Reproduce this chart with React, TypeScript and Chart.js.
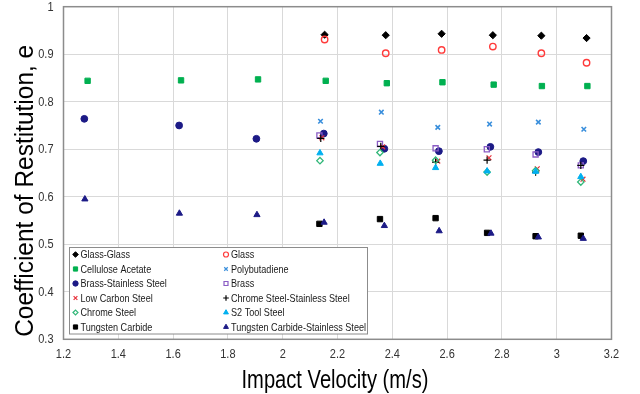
import React, { useEffect, useRef } from "react";
import { Chart, registerables } from "chart.js";
import { drawPoint } from "chart.js/helpers";

Chart.register(...registerables);

// ---- data (impact velocity m/s, coefficient of restitution) ----
const seriesNames = [
  "Glass-Glass",
  "Glass",
  "Cellulose Acetate",
  "Polybutadiene",
  "Brass-Stainless Steel",
  "Brass",
  "Low Carbon Steel",
  "Chrome Steel-Stainless Steel",
  "Chrome Steel",
  "S2 Tool Steel",
  "Tungsten Carbide",
  "Tungsten Carbide-Stainless Steel",
];

const glassGlassX = [2.153, 2.376, 2.58, 2.767, 2.944, 3.109];
const glassGlassY = [0.941, 0.94, 0.943, 0.94, 0.939, 0.934];
const glassX = [2.153, 2.376, 2.58, 2.767, 2.944, 3.109];
const glassY = [0.931, 0.902, 0.909, 0.916, 0.902, 0.882];
const celluloseX = [1.288, 1.629, 1.91, 2.157, 2.38, 2.583, 2.77, 2.946, 3.112];
const celluloseY = [0.844, 0.845, 0.847, 0.844, 0.839, 0.841, 0.836, 0.833, 0.833];
const polyX = [2.138, 2.36, 2.566, 2.755, 2.933, 3.099];
const polyY = [0.759, 0.778, 0.746, 0.753, 0.757, 0.742];
const brassSSX = [1.276, 1.622, 1.904, 2.15, 2.371, 2.57, 2.758, 2.933, 3.097];
const brassSSY = [0.764, 0.75, 0.722, 0.733, 0.701, 0.696, 0.705, 0.694, 0.675];
const brassX = [2.134, 2.355, 2.558, 2.745, 2.923, 3.088];
const brassY = [0.729, 0.711, 0.702, 0.7, 0.689, 0.666];
const lowCarbonX = [2.143, 2.365, 2.566, 2.753, 2.929, 3.096];
const lowCarbonY = [0.724, 0.705, 0.675, 0.682, 0.659, 0.637];
const chromeSSX = [2.139, 2.358, 2.558, 2.746, 2.923, 3.088];
const chromeSSY = [0.723, 0.706, 0.673, 0.677, 0.652, 0.666];
const chromeX = [2.136, 2.355, 2.558, 2.746, 2.923, 3.088];
const chromeY = [0.676, 0.693, 0.677, 0.652, 0.655, 0.631];
const s2X = [2.136, 2.356, 2.558, 2.746, 2.923, 3.088];
const s2Y = [0.692, 0.67, 0.661, 0.654, 0.653, 0.642];
const tcX = [2.134, 2.355, 2.558, 2.746, 2.923, 3.088];
const tcY = [0.543, 0.553, 0.555, 0.524, 0.517, 0.518];
const tcssX = [1.278, 1.623, 1.906, 2.151, 2.371, 2.571, 2.76, 2.933, 3.097];
const tcssY = [0.595, 0.565, 0.562, 0.546, 0.539, 0.528, 0.523, 0.515, 0.512];

const xTitle = "Impact Velocity (m/s)";
const yTitle = "Coefficient of Restitution, e";

const FONT = '"Liberation Sans", Arial, sans-serif';

type Style = {
  pointStyle: string;
  fill: string;
  stroke: string;
  radius: number;
  borderWidth: number;
};

const styles: Style[] = [
  { pointStyle: "rectRot", fill: "#000000", stroke: "#000000", radius: 3.6, borderWidth: 1 },
  { pointStyle: "circle", fill: "rgba(255,255,255,0)", stroke: "#ff3b3b", radius: 3.2, borderWidth: 1.4 },
  { pointStyle: "rect", fill: "#00b050", stroke: "#00b050", radius: 3.8, borderWidth: 1 },
  { pointStyle: "crossRot", fill: "#3a8fdc", stroke: "#3a8fdc", radius: 3.2, borderWidth: 1.6 },
  { pointStyle: "circle", fill: "#1c1a86", stroke: "#1c1a86", radius: 3.4, borderWidth: 1 },
  { pointStyle: "rect", fill: "rgba(255,255,255,0)", stroke: "#8a5cc4", radius: 3.6, borderWidth: 1.3 },
  { pointStyle: "crossRot", fill: "#e8303a", stroke: "#e8303a", radius: 3.4, borderWidth: 1.2 },
  { pointStyle: "cross", fill: "#000000", stroke: "#000000", radius: 3.6, borderWidth: 1.2 },
  { pointStyle: "rectRot", fill: "rgba(255,255,255,0)", stroke: "#33b87a", radius: 3.2, borderWidth: 1.3 },
  { pointStyle: "triangle", fill: "#00b0f0", stroke: "#00b0f0", radius: 3.6, borderWidth: 1 },
  { pointStyle: "rect", fill: "#000000", stroke: "#000000", radius: 3.8, borderWidth: 1 },
  { pointStyle: "triangle", fill: "#1c1a86", stroke: "#1c1a86", radius: 3.6, borderWidth: 1 },
];

const seriesX = [glassGlassX, glassX, celluloseX, polyX, brassSSX, brassX, lowCarbonX, chromeSSX, chromeX, s2X, tcX, tcssX];
const seriesY = [glassGlassY, glassY, celluloseY, polyY, brassSSY, brassY, lowCarbonY, chromeSSY, chromeY, s2Y, tcY, tcssY];

function narrowText(
  ctx: CanvasRenderingContext2D,
  text: string,
  x: number,
  y: number,
  sx: number,
  align: CanvasTextAlign
) {
  ctx.save();
  ctx.translate(x, y);
  ctx.scale(sx, 1);
  ctx.textAlign = align;
  ctx.fillText(text, 0, 0);
  ctx.restore();
}

const fmt = (v: number) => String(Math.round(v * 10) / 10);

const framePlugin = {
  id: "frameAndLegend",
  afterDraw(chart: any) {
    const ctx: CanvasRenderingContext2D = chart.ctx;
    const a = chart.chartArea;
    ctx.save();
    // plot-area border
    ctx.strokeStyle = "#8c8c8c";
    ctx.lineWidth = 1.5;
    ctx.strokeRect(a.left, a.top, a.right - a.left, a.bottom - a.top);

    // tick labels (condensed look)
    ctx.fillStyle = "#333333";
    ctx.font = `12.5px ${FONT}`;
    ctx.textBaseline = "middle";
    const xs = chart.scales.x;
    const ys = chart.scales.y;
    xs.ticks.forEach((t: any) => {
      narrowText(ctx, fmt(t.value), xs.getPixelForValue(t.value), 354.5, 0.88, "center");
    });
    ys.ticks.forEach((t: any) => {
      narrowText(ctx, fmt(t.value), 53.5, ys.getPixelForValue(t.value) + 0.5, 0.88, "right");
    });

    // axis titles
    ctx.fillStyle = "#000000";
    ctx.textBaseline = "alphabetic";
    ctx.font = `25.5px ${FONT}`;
    const xw = ctx.measureText(xTitle).width;
    narrowText(ctx, xTitle, 335, 388.3, 187 / xw, "center");
    const yw = ctx.measureText(yTitle).width;
    ctx.save();
    ctx.translate(33.3, 190.8);
    ctx.rotate(-Math.PI / 2);
    narrowText(ctx, yTitle, 0, 0, 292 / yw, "center");
    ctx.restore();

    // legend box
    const bx = 69.5, by = 247.5, bw = 298, bh = 86.5;
    ctx.fillStyle = "#ffffff";
    ctx.fillRect(bx, by, bw, bh);
    ctx.strokeStyle = "#8c8c8c";
    ctx.lineWidth = 1;
    ctx.strokeRect(bx, by, bw, bh);
    ctx.font = `11.5px ${FONT}`;
    ctx.textBaseline = "middle";
    chart.data.datasets.forEach((ds: any, i: number) => {
      const col = i % 2;
      const row = Math.floor(i / 2);
      const mx = col === 0 ? 75.5 : 226;
      const my = 254.5 + row * 14.5;
      const st = styles[i];
      ctx.fillStyle = st.fill;
      ctx.strokeStyle = st.stroke;
      ctx.lineWidth = Math.min(st.borderWidth, 1.2);
      drawPoint(ctx, { pointStyle: st.pointStyle as any, rotation: 0, radius: st.radius * 0.78, borderWidth: 1 }, mx, my);
      ctx.fillStyle = "#1a1a1a";
      narrowText(ctx, ds.label, mx + 5, my + 0.5, 0.79, "left");
    });
    ctx.restore();
  },
};

export default function App() {
  const ref = useRef<HTMLCanvasElement | null>(null);

  useEffect(() => {
    if (!ref.current) return;
    const datasets = seriesNames.map((name, i) => {
      const st = styles[i];
      return {
        label: name,
        data: seriesX[i].map((x, j) => ({ x, y: seriesY[i][j] })),
        pointStyle: st.pointStyle,
        backgroundColor: st.fill,
        borderColor: st.stroke,
        pointRadius: st.radius,
        pointBorderWidth: st.borderWidth,
        showLine: false,
        order: seriesNames.length - i,
      };
    });
    const chart = new Chart(ref.current, {
      type: "scatter",
      data: { datasets: datasets as any },
      options: {
        animation: false,
        responsive: false,
        devicePixelRatio: 1,
        layout: { padding: { left: 0, right: 28.5, top: 6.7, bottom: 0 } },
        plugins: { legend: { display: false }, tooltip: { enabled: false } },
        scales: {
          x: {
            type: "linear",
            min: 1.2,
            max: 3.2,
            ticks: { stepSize: 0.2, display: false },
            grid: { color: "#d9d9d9", lineWidth: 1, drawTicks: false },
            border: { display: false },
            afterFit: (s: any) => {
              s.height = 54.7;
            },
          },
          y: {
            type: "linear",
            min: 0.3,
            max: 1,
            ticks: { stepSize: 0.1, display: false },
            grid: { color: "#d9d9d9", lineWidth: 1, drawTicks: false },
            border: { display: false },
            afterFit: (s: any) => {
              s.width = 63.5;
            },
          },
        },
      },
      plugins: [framePlugin],
    });
    return () => chart.destroy();
  }, []);

  return (
    <div style={{ position: "fixed", left: 0, top: 0, width: 640, height: 394, background: "#ffffff" }}>
      <canvas ref={ref} width={640} height={394} />
    </div>
  );
}
